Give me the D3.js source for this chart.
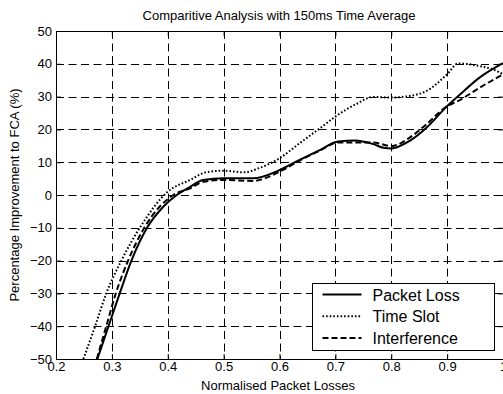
<!DOCTYPE html>
<html>
<head>
<meta charset="utf-8">
<script src="https://cdn.jsdelivr.net/npm/d3@7"></script>
<style>
  body { margin: 0; background: #fff; }
  svg { display: block; font-family: "Liberation Sans", Arial, sans-serif; }
</style>
</head>
<body>
<svg id="chart" width="503" height="394"></svg>
<script>
// tick values
const xTicks = [0.2, 0.3, 0.4, 0.5, 0.6, 0.7, 0.8, 0.9, 1];
const yTicks = [-50, -40, -30, -20, -10, 0, 10, 20, 30, 40, 50];

// Packet Loss (solid)
const lossX = [0.274, 0.294, 0.314, 0.335, 0.363, 0.392, 0.416, 0.44, 0.463, 0.5, 0.553, 0.6, 0.636, 0.672, 0.705, 0.735, 0.768, 0.786, 0.8, 0.833, 0.863, 0.9, 0.92, 0.958, 1.0];
const lossY = [-50, -40, -30, -20, -10, -3.6, 0, 2.5, 4.6, 5.1, 5.1, 7.6, 10.7, 13.7, 16.3, 16.6, 15.5, 14.4, 14.2, 16.5, 20.5, 27.1, 30.2, 35.8, 40.2];

// Time Slot (dotted)
const slotX = [0.249, 0.27, 0.29, 0.317, 0.35, 0.4, 0.44, 0.47, 0.5, 0.537, 0.562, 0.6, 0.636, 0.672, 0.7, 0.738, 0.768, 0.8, 0.833, 0.863, 0.9, 0.92, 0.958, 0.982, 1.0];
const slotY = [-50, -40, -30, -20, -10, 1.0, 4.6, 7.0, 7.4, 6.9, 8.1, 11.2, 15.8, 20.3, 23.9, 27.8, 29.9, 29.7, 30.2, 31.7, 36.8, 40.1, 39.3, 38.3, 36.8];

// Interference (dashed)
const intfX = [0.273, 0.29, 0.307, 0.329, 0.358, 0.41, 0.44, 0.463, 0.5, 0.553, 0.6, 0.636, 0.672, 0.705, 0.768, 0.8, 0.833, 0.863, 0.9, 0.92, 0.958, 1.0];
const intfY = [-50, -40, -30, -20, -10, 0, 2.0, 4.0, 4.6, 4.3, 7.1, 10.5, 13.5, 16.0, 16.0, 14.9, 17.5, 21.6, 27.1, 28.7, 32.7, 36.8];

const svg = d3.select('#chart');
const mLeft = 56, mRight = 503, mTop = 31, mBottom = 359;

const x = d3.scaleLinear().domain([0.2, 1]).range([mLeft, mRight]);
const y = d3.scaleLinear().domain([-50, 50]).range([mBottom, mTop]);

// grid
const grid = svg.append('g')
  .attr('stroke', '#000')
  .attr('stroke-width', 1)
  .attr('stroke-dasharray', '8,4.5');
grid.selectAll('.vgrid')
  .data(xTicks.slice(1, -1))
  .enter()
  .append('line')
  .attr('x1', d => Math.round(x(d)) + 0.5)
  .attr('x2', d => Math.round(x(d)) + 0.5)
  .attr('y1', mTop)
  .attr('y2', mBottom);
grid.selectAll('.hgrid')
  .data(yTicks.slice(1, -1))
  .enter()
  .append('line')
  .attr('x1', mLeft)
  .attr('x2', mRight)
  .attr('y1', d => Math.round(y(d)) + 0.5)
  .attr('y2', d => Math.round(y(d)) + 0.5);

// axes (ticks inside, like matlab)
const tk = 5;
const fmt = d => d3.format('')(d);
const xBottom = svg.append('g')
  .attr('transform', `translate(0,${mBottom})`)
  .call(d3.axisBottom(x).tickValues(xTicks).tickSizeInner(-tk).tickSizeOuter(0).tickPadding(3).tickFormat(fmt));
const xTop = svg.append('g')
  .attr('transform', `translate(0,${mTop})`)
  .call(d3.axisTop(x).tickValues(xTicks).tickSizeInner(-tk).tickSizeOuter(0).tickFormat(''));
const yLeft = svg.append('g')
  .attr('transform', `translate(${mLeft},0)`)
  .call(d3.axisLeft(y).tickValues(yTicks).tickSizeInner(-tk).tickSizeOuter(0).tickPadding(4));
const yRight = svg.append('g')
  .attr('transform', `translate(${mRight},0)`)
  .call(d3.axisRight(y).tickValues(yTicks).tickSizeInner(-tk).tickSizeOuter(0).tickFormat(''));

[xBottom, xTop, yLeft, yRight].forEach(g => {
  g.selectAll('path, line').attr('stroke', '#000');
  g.selectAll('text').attr('fill', '#000').attr('font-size', 13).attr('font-family', '"Liberation Sans", Arial, sans-serif');
});

// curves
const line = d3.line()
  .x(d => x(d[0]))
  .y(d => y(d[1]))
  .curve(d3.curveMonotoneX);

const series = [
  { name: 'Packet Loss', xs: lossX, ys: lossY, dash: null },
  { name: 'Time Slot', xs: slotX, ys: slotY, dash: '1.6,2' },
  { name: 'Interference', xs: intfX, ys: intfY, dash: '6,3' }
];

svg.append('clipPath').attr('id', 'clip')
  .append('rect').attr('x', mLeft).attr('y', mTop).attr('width', mRight - mLeft).attr('height', mBottom - mTop);

svg.append('g').attr('clip-path', 'url(#clip)')
  .selectAll('path')
  .data(series)
  .enter()
  .append('path')
  .attr('d', s => line(s.xs.map((v, i) => [v, s.ys[i]])))
  .attr('fill', 'none')
  .attr('stroke', '#000')
  .attr('stroke-width', 2)
  .attr('stroke-dasharray', s => s.dash);

// title and labels
svg.append('text')
  .attr('x', 279).attr('y', 20)
  .attr('text-anchor', 'middle')
  .attr('font-size', 13)
  .text('Comparitive Analysis with 150ms Time Average');

svg.append('text')
  .attr('x', 278).attr('y', 390)
  .attr('text-anchor', 'middle')
  .attr('font-size', 13)
  .text('Normalised Packet Losses');

svg.append('text')
  .attr('transform', 'translate(19,195) rotate(-90)')
  .attr('text-anchor', 'middle')
  .attr('font-size', 13)
  .text('Percentage Improvement to FCA (%)');

// legend
const legend = svg.append('g').attr('transform', 'translate(312.5,283.5)');
legend.append('rect')
  .attr('width', 182).attr('height', 67)
  .attr('fill', '#fff').attr('stroke', '#000');
const rows = legend.selectAll('.row')
  .data(series)
  .enter()
  .append('g')
  .attr('transform', (d, i) => `translate(0,${11 + i * 21.7})`);
rows.append('line')
  .attr('x1', 10).attr('x2', 49)
  .attr('stroke', '#000').attr('stroke-width', 2)
  .attr('stroke-dasharray', d => d.dash);
rows.append('text')
  .attr('x', 60).attr('y', 6)
  .attr('font-size', 16)
  .text(d => d.name);
</script>
</body>
</html>
